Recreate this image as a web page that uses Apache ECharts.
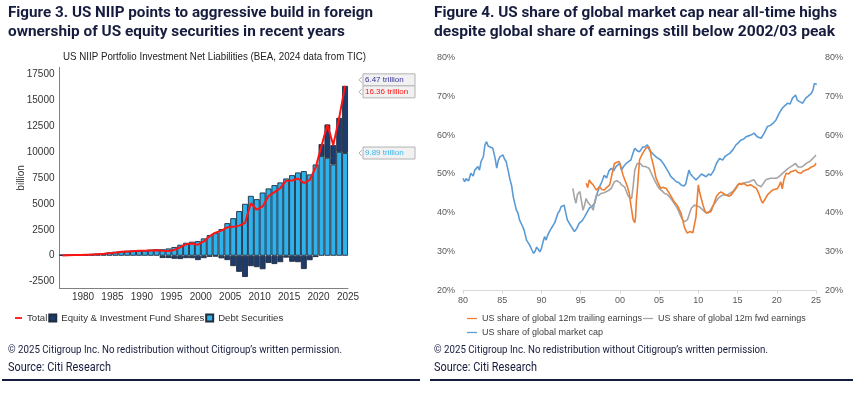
<!DOCTYPE html>
<html>
<head>
<meta charset="utf-8">
<script src="https://cdn.jsdelivr.net/npm/echarts@6/dist/echarts.min.js"></script>
<style>
  html, body { margin: 0; padding: 0; background: #fff; }
  #main { width: 868px; height: 397px; }
</style>
</head>
<body>
<div id="main"></div>
<script>
// ---- Figure 3: US NIIP portfolio investment net liabilities ($bn) ----
const years = [1976, 1977, 1978, 1979, 1980, 1981, 1982, 1983, 1984, 1985, 1986, 1987, 1988, 1989, 1990,
  1991, 1992, 1993, 1994, 1995, 1996, 1997, 1998, 1999, 2000, 2001, 2002, 2003, 2004, 2005, 2006, 2007,
  2008, 2009, 2010, 2011, 2012, 2013, 2014, 2015, 2016, 2017, 2018, 2019, 2020, 2021, 2022, 2023, 2024];
const debt = [60, 70, 80, 95, 110, 130, 160, 200, 260, 330, 390, 420, 450, 480, 500, 530, 560,
  620, 700, 840, 1060, 1250, 1350, 1410, 1670, 1990, 2210, 2560, 3140,
  3620, 4300, 5000, 5770, 5450, 6090, 6480, 6800, 7060, 7440,
  7760, 8020, 8150, 7830, 8790, 9590, 9430, 8790, 10000, 9890];
const equity = [0, 0, 0, 0, 0, 0, 0, 0, 0, 0, 0, 0, 0, 0, 0, 0, 0,
  -220, -220, -290, -320, -230, -240, -420, -230, -100, -60, -250, -420,
  -1000, -1550, -2050, -1000, -1100, -1300, -700, -800, -620, -180,
  -580, -620, -1280, -430, -130, 1160, 3210, 1860, 3280, 6470];
const total = [20, 40, 60, 80, 100, 120, 150, 190, 240, 300, 380, 410, 440, 470, 480, 500, 520,
  470, 450, 560, 820, 1100, 1180, 1060, 1380, 1880, 2230, 2420, 2740,
  2780, 2900, 3150, 5050, 4430, 4750, 5750, 6120, 6500, 7230,
  7250, 7440, 7000, 7300, 8500, 10600, 12600, 10650, 13280, 16360];
const tagLabels = ['6.47 trillion', '16.36 trillion', '9.89 trillion'];

// ---- Figure 4: US share of global market cap / earnings (%) ----
const capX = [1980.0, 1980.2, 1980.4, 1980.7, 1981.0, 1981.3, 1981.5, 1981.9, 1982.1, 1982.3, 1982.6, 1982.8,
  1983.0, 1983.2, 1983.4, 1983.8, 1984.1, 1984.3, 1984.5, 1984.7, 1985.1, 1985.3, 1985.5, 1985.8, 1986.0,
  1986.2, 1986.4, 1986.8, 1987.0, 1987.2, 1987.6, 1987.8, 1988.1, 1988.3, 1988.5, 1988.8, 1989.0, 1989.2,
  1989.4, 1989.6, 1989.8, 1990.0, 1990.2, 1990.4, 1990.6, 1990.8, 1991.1, 1991.4, 1991.7, 1992.1, 1992.3,
  1992.5, 1992.9, 1993.1, 1993.3, 1993.8, 1994.2, 1994.5, 1994.8, 1995.2, 1995.5, 1996.1, 1996.5, 1996.8,
  1997.1, 1997.4, 1997.7, 1998.0, 1998.3, 1998.6, 1998.9, 1999.2, 1999.5, 2000.0, 2000.2, 2000.5, 2000.8,
  2001.1, 2001.4, 2001.7, 2001.9, 2002.2, 2002.5, 2002.9, 2003.2, 2003.5, 2003.8, 2004.0, 2004.3, 2004.6,
  2005.2, 2005.6, 2005.9, 2006.2, 2006.5, 2006.9, 2007.2, 2007.5, 2007.8, 2008.2, 2008.4, 2008.6, 2008.8,
  2009.0, 2009.3, 2009.7, 2010.1, 2010.4, 2010.6, 2011.0, 2011.3, 2011.6, 2012.0, 2012.3, 2012.7, 2013.1,
  2013.4, 2013.7, 2014.0, 2014.4, 2014.8, 2015.1, 2015.4, 2015.8, 2016.1, 2016.4, 2016.7, 2017.1, 2017.5,
  2018.0, 2018.4, 2018.8, 2019.2, 2019.5, 2019.9, 2020.1, 2020.3, 2020.7, 2021.0, 2021.4, 2021.7, 2022.0,
  2022.4, 2022.6, 2022.9, 2023.3, 2023.7, 2024.0, 2024.4, 2024.6, 2024.8, 2024.95, 2025.1];
const capY = [48.9, 48.0, 48.8, 48.2, 50.2, 49.5, 51.0, 51.9, 51.0, 53.2, 54.5, 57.5,
  58.3, 57.2, 57.4, 56.6, 54.0, 51.5, 53.5, 54.4, 54.9, 53.8, 53.2, 50.5, 48.5,
  47.0, 44.2, 40.7, 40.0, 38.2, 36.5, 35.5, 33.0, 32.5, 31.7, 30.4, 29.6, 30.2,
  31.2, 31.7, 30.0, 30.9, 32.5, 33.9, 33.0, 34.3, 35.5, 36.5, 37.5, 39.9, 40.5,
  41.6, 42.0, 40.0, 38.2, 36.5, 35.2, 36.0, 37.3, 38.0, 39.0, 41.2, 41.8, 42.5,
  45.0, 46.7, 48.0, 49.7, 49.0, 50.8, 51.5, 50.8, 51.9, 52.8, 51.0, 52.0, 52.7,
  53.2, 53.6, 55.5, 56.6, 56.0, 55.7, 56.9, 57.0, 57.5, 56.0, 55.7, 55.0, 54.4,
  53.6, 52.5, 51.5, 50.5, 49.3, 48.6, 48.0, 47.8, 47.2, 46.9, 47.5, 49.3, 51.0,
  50.0, 49.3, 48.5, 49.3, 50.0, 50.2, 49.3, 50.0, 49.7, 51.0, 52.7, 54.0, 53.6,
  54.5, 54.9, 55.3, 56.2, 57.5, 58.0, 58.7, 59.0, 59.6, 59.8, 60.0, 60.5, 59.6,
  59.2, 60.5, 62.2, 62.5, 63.0, 63.9, 64.0, 65.6, 66.9, 67.5, 68.2, 68.0, 69.5,
  70.3, 69.0, 68.6, 68.2, 69.5, 70.0, 70.7, 71.5, 73.3, 73.8, 73.0];

const trailX = [1995.7, 1995.9, 1996.1, 1996.3, 1996.6, 1996.8, 1997.0, 1997.2, 1997.4, 1997.7, 1998.0, 1998.3,
  1998.7, 1999.0, 1999.3, 1999.6, 1999.9, 2000.1, 2000.4, 2000.8, 2001.0, 2001.2, 2001.4, 2001.7, 2001.9,
  2002.0, 2002.1, 2002.3, 2002.5, 2002.7, 2002.9, 2003.1, 2003.3, 2003.5, 2003.7, 2003.9, 2004.0, 2004.2,
  2004.4, 2004.6, 2004.9, 2005.2, 2005.5, 2005.9, 2006.3, 2006.6, 2006.9, 2007.2, 2007.4, 2007.8, 2008.0,
  2008.2, 2008.4, 2008.6, 2008.9, 2009.1, 2009.3, 2009.5, 2009.7, 2009.85, 2010.0, 2010.15, 2010.3, 2010.6,
  2010.8, 2011.0, 2011.2, 2011.6, 2012.0, 2012.3, 2012.6, 2012.9, 2013.2, 2013.5, 2013.9, 2014.2, 2014.5,
  2014.8, 2015.2, 2015.5, 2015.8, 2016.2, 2016.7, 2017.0, 2017.4, 2017.7, 2018.0, 2018.2, 2018.5, 2018.8,
  2019.1, 2019.5, 2020.1, 2020.3, 2020.5, 2020.7, 2020.9, 2021.2, 2021.5, 2021.8, 2022.1, 2022.4, 2022.7,
  2023.1, 2023.4, 2023.7, 2024.0, 2024.2, 2024.4, 2024.6, 2024.8, 2025.0];
const trailY = [47.6, 46.5, 48.5, 47.8, 47.2, 46.5, 45.9, 46.3, 46.7, 46.0, 45.9, 46.5,
  47.2, 50.0, 52.7, 53.0, 53.2, 52.0, 49.7, 47.6, 46.5, 45.0, 42.0, 38.2, 37.5,
  39.0, 43.0, 48.0, 53.6, 54.5, 55.3, 55.8, 56.6, 56.2, 57.0, 55.8, 54.4, 52.8,
  51.0, 49.0, 47.6, 46.3, 46.6, 46.3, 45.0, 44.0, 42.9, 42.2, 41.6, 39.9, 38.2,
  36.5, 35.5, 34.8, 35.2, 35.6, 34.9, 35.2, 39.0, 43.5, 47.2, 45.5, 44.2, 42.0,
  40.7, 40.0, 39.5, 40.3, 42.5, 44.2, 45.0, 45.4, 45.0, 44.6, 44.3, 44.6, 45.5,
  46.3, 47.6, 47.3, 47.6, 47.0, 47.2, 46.8, 46.3, 45.0, 43.3, 42.5, 43.5, 44.6,
  45.2, 45.9, 46.3, 47.0, 48.0, 46.2, 48.5, 50.2, 50.0, 50.6, 50.8, 51.0, 50.4,
  50.2, 50.8, 51.0, 51.2, 51.5, 51.8, 52.3, 52.1, 52.8];

const fwdX = [1994.0, 1994.2, 1994.4, 1994.6, 1994.9, 1995.1, 1995.3, 1995.5, 1995.7, 1995.9, 1996.1, 1996.4,
  1996.6, 1996.8, 1997.0, 1997.3, 1997.6, 1998.0, 1998.3, 1998.6, 1998.9, 1999.1, 1999.3, 1999.6, 1999.8,
  2000.0, 2000.2, 2000.6, 2001.0, 2001.2, 2001.5, 2001.7, 2001.9, 2002.2, 2002.6, 2002.9, 2003.3, 2003.7,
  2004.0, 2004.4, 2004.7, 2005.0, 2005.4, 2005.7, 2006.0, 2006.3, 2006.6, 2006.9, 2007.3, 2007.6, 2007.9,
  2008.2, 2008.4, 2008.6, 2008.9, 2009.1, 2009.5, 2010.1, 2010.5, 2010.8, 2011.2, 2011.5, 2011.8, 2012.2,
  2012.5, 2012.8, 2013.1, 2013.7, 2014.0, 2014.4, 2014.7, 2015.0, 2015.3, 2015.7, 2016.1, 2016.5, 2016.8,
  2017.1, 2017.5, 2018.0, 2018.3, 2018.6, 2019.2, 2019.9, 2020.2, 2020.5, 2020.8, 2021.2, 2021.5, 2021.8,
  2022.1, 2022.4, 2022.7, 2022.9, 2023.2, 2023.5, 2023.8, 2024.2, 2024.4, 2024.6, 2024.8, 2025.0];
const fwdY = [46.3, 44.0, 42.5, 44.8, 45.5, 43.0, 40.7, 42.0, 43.7, 42.8, 42.5, 41.5,
  40.7, 43.0, 44.6, 44.5, 45.0, 45.2, 45.5, 45.8, 46.3, 47.2, 48.0, 48.3, 48.5,
  47.8, 47.2, 46.7, 44.6, 44.0, 43.7, 47.0, 51.0, 52.7, 52.7, 52.0, 51.9, 51.5,
  50.2, 48.5, 47.3, 46.3, 45.6, 45.0, 44.8, 44.2, 43.4, 42.5, 41.3, 39.9, 38.6,
  37.7, 37.5, 38.2, 40.0, 41.2, 42.0, 41.6, 40.9, 40.3, 39.9, 40.6, 41.6, 42.8,
  43.7, 44.2, 44.6, 44.6, 45.0, 45.5, 46.3, 47.2, 47.4, 47.6, 47.8, 48.0, 48.3,
  48.5, 47.2, 46.7, 47.6, 48.5, 48.9, 48.9, 49.2, 49.7, 50.3, 51.0, 51.5, 51.9,
  52.3, 52.7, 51.8, 51.5, 51.8, 52.3, 52.8, 53.2, 53.6, 54.0, 54.4, 54.9];

const title3 = ['Figure 3. US NIIP points to aggressive build in foreign', 'ownership of US equity securities in recent years'];
const title4 = ['Figure 4. US share of global market cap near all-time highs', 'despite global share of earnings still below 2002/03 peak'];
const subtitle3 = 'US NIIP Portfolio Investment Net Liabilities (BEA, 2024 data from TIC)';
const copyright = '\u00a9 2025 Citigroup Inc. No redistribution without Citigroup\u2019s written permission.';
const source = 'Source: Citi Research';

const NAVY = '#161c3d';
const SANS = '"Liberation Sans", Arial, sans-serif';
const AXIS_GREY = '#808080';

const chart = echarts.init(document.getElementById('main'));

// measure text so it can be squeezed to the width seen in the picture
const measure = document.createElement('canvas').getContext('2d');
function fitText(str, x, y, w, font, color) {
  measure.font = font;
  return {
    type: 'text', x: x, y: y, silent: true,
    scaleX: w / measure.measureText(str).width,
    style: { text: str, font: font, fill: color, textAlign: 'left', textVerticalAlign: 'middle' }
  };
}

const lineIcon = 'path://M0,0H10V2.6H0Z';
const thinIcon = 'path://M0,0H16V2H0Z';

chart.setOption({
  animation: false,
  backgroundColor: '#fff',
  grid: [
    { left: 59.5, top: 74, width: 288.5, height: 207.7 },
    { left: 463, top: 57.3, width: 353, height: 233.4 }
  ],
  legend: [
    {
      left: 15, top: 313, padding: 0, itemWidth: 7, itemHeight: 7, itemGap: 1,
      textStyle: { fontFamily: SANS, fontSize: 9.6, color: '#333' },
      data: [
        { name: 'Total', icon: lineIcon },
        { name: 'Equity & Investment Fund Shares', icon: 'rect' },
        { name: 'Debt Securities', icon: 'rect' }
      ]
    },
    {
      left: 467, top: 314, padding: 0, itemWidth: 10, itemHeight: 6, itemGap: 1,
      textStyle: { fontFamily: SANS, fontSize: 9, color: '#404040' },
      data: [
        { name: 'US share of global 12m trailing earnings', icon: thinIcon },
        { name: 'US share of global 12m fwd earnings', icon: thinIcon }
      ]
    },
    {
      left: 467, top: 328, padding: 0, itemWidth: 10, itemHeight: 6,
      textStyle: { fontFamily: SANS, fontSize: 9, color: '#404040' },
      data: [{ name: 'US share of global market cap', icon: thinIcon }]
    }
  ],
  xAxis: [
    {
      // one band per year for the stacked bars and the total line
      type: 'category', gridIndex: 0, position: 'bottom', data: years.map(String), boundaryGap: true,
      axisLine: { show: false }, axisTick: { show: false }, axisLabel: { show: false }
    },
    {
      type: 'value', gridIndex: 1, min: 1980, max: 2025, interval: 5,
      axisLine: { lineStyle: { color: '#d9d9d9' } },
      axisTick: { show: true, length: 3, lineStyle: { color: '#d9d9d9' } },
      splitLine: { show: false },
      axisLabel: {
        fontFamily: SANS, fontSize: 9, color: '#595959', margin: 5,
        formatter: v => String(v % 100).padStart(2, '0')
      }
    },
    {
      // year scale with labels on the band edges, as in the original
      type: 'value', gridIndex: 0, position: 'bottom', min: 1976, max: 2025, interval: 1, offset: 7,
      axisLine: { onZero: false, lineStyle: { color: AXIS_GREY, width: 1 } },
      axisTick: { show: false },
      splitLine: { show: false },
      axisLabel: {
        fontFamily: SANS, fontSize: 10, color: '#333', margin: 4,
        formatter: v => (v % 5 === 0 ? String(v) : '')
      }
    }
  ],
  yAxis: [
    {
      type: 'value', gridIndex: 0, min: -2500, max: 17500, interval: 2500,
      axisLine: { show: false },
      axisTick: { show: false },
      splitLine: { show: false },
      axisLabel: { fontFamily: SANS, fontSize: 10, color: '#333', margin: 5, formatter: v => String(v) }
    },
    {
      type: 'value', gridIndex: 1, min: 20, max: 80, interval: 10,
      axisLine: { show: false }, axisTick: { show: false }, splitLine: { show: false },
      axisLabel: { fontFamily: SANS, fontSize: 9, color: '#595959', margin: 8, formatter: '{value}%' }
    },
    {
      type: 'value', gridIndex: 1, position: 'right', min: 20, max: 80, interval: 10,
      axisLine: { show: false }, axisTick: { show: false }, splitLine: { show: false },
      axisLabel: { fontFamily: SANS, fontSize: 9, color: '#595959', margin: 9, formatter: '{value}%' }
    }
  ],
  series: [
    {
      name: 'Debt Securities', type: 'bar', xAxisIndex: 0, yAxisIndex: 0, stack: 'niip', barCategoryGap: '0%',
      itemStyle: { color: '#2fb1ec', borderColor: '#1f2d3d', borderWidth: 0.9 },
      data: debt
    },
    {
      name: 'Equity & Investment Fund Shares', type: 'bar', xAxisIndex: 0, yAxisIndex: 0, stack: 'niip', barCategoryGap: '0%',
      itemStyle: { color: '#1d3b6c', borderColor: '#1f2d3d', borderWidth: 0.9 },
      data: equity
    },
    {
      name: 'Total', type: 'line', xAxisIndex: 0, yAxisIndex: 0, z: 5,
      showSymbol: false, itemStyle: { color: '#ff1414' },
      lineStyle: { color: '#ff1414', width: 2 },
      data: total
    },
    {
      name: 'US share of global market cap', type: 'line', xAxisIndex: 1, yAxisIndex: 1,
      showSymbol: false, itemStyle: { color: '#5b9bd5' }, lineStyle: { color: '#5b9bd5', width: 1.6 },
      data: capX.map((x, i) => [x, capY[i]])
    },
    {
      name: 'US share of global 12m fwd earnings', type: 'line', xAxisIndex: 1, yAxisIndex: 1,
      showSymbol: false, itemStyle: { color: '#a5a5a5' }, lineStyle: { color: '#a5a5a5', width: 1.6 },
      data: fwdX.map((x, i) => [x, fwdY[i]])
    },
    {
      name: 'US share of global 12m trailing earnings', type: 'line', xAxisIndex: 1, yAxisIndex: 1,
      showSymbol: false, itemStyle: { color: '#ed7d31' }, lineStyle: { color: '#ed7d31', width: 1.6 },
      data: trailX.map((x, i) => [x, trailY[i]])
    }
  ]
});

// texts, rules and last-value tags placed from the chart's own scales
const last = years.length - 1;
const px = v => chart.convertToPixel({ xAxisIndex: 2 }, v);
const py = v => chart.convertToPixel({ yAxisIndex: 0 }, v);
const axisTop = py(17500), axisBottom = py(-2500);
const tagX = px(2025) + 15;
const tagY = [py(debt[last] + equity[last]) - 6, py(total[last]) + 6, py(debt[last])];
const tagColors = ['#33339c', '#ff1414', '#35b6f0'];

const graphics = [
  fitText(title3[0], 8, 13, 365, 'bold 15px Roboto', NAVY),
  fitText(title3[1], 8, 32.5, 337, 'bold 15px Roboto', NAVY),
  fitText(title4[0], 434, 13, 403, 'bold 15px Roboto', NAVY),
  fitText(title4[1], 434, 32.5, 401, 'bold 15px Roboto', NAVY),
  fitText(subtitle3, 63, 57, 303, '10.5px ' + SANS, '#222'),
  fitText(copyright, 8, 350, 334, '11px Roboto', NAVY),
  fitText(source, 8, 368, 103, '13px Roboto', NAVY),
  fitText(copyright, 434, 350, 334, '11px Roboto', NAVY),
  fitText(source, 434, 368, 103, '13px Roboto', NAVY),
  { type: 'text', silent: true, x: px(1976) - 38, y: (axisTop + axisBottom) / 2, rotation: Math.PI / 2,
    style: { text: 'billion', font: '10px ' + SANS, fill: '#333', textAlign: 'center', textVerticalAlign: 'middle' } },
  { type: 'line', silent: true, shape: { x1: 2, y1: 380, x2: 420, y2: 380 }, style: { stroke: NAVY, lineWidth: 2 } },
  { type: 'line', silent: true, shape: { x1: 430, y1: 380, x2: 853, y2: 380 }, style: { stroke: NAVY, lineWidth: 2 } },
  { type: 'line', silent: true, shape: { x1: px(1976), y1: axisTop - 7, x2: px(1976), y2: axisBottom + 7 },
    style: { stroke: AXIS_GREY, lineWidth: 1 } }
];
tagLabels.forEach((t, i) => {
  const cy = tagY[i];
  graphics.push(
    { type: 'polyline', silent: true, shape: { points: [[tagX - 1, cy - 3], [tagX - 4, cy], [tagX - 1, cy + 3]] },
      style: { stroke: '#9a9a9a', fill: null, lineWidth: 0.8 } },
    { type: 'rect', silent: true, shape: { x: tagX, y: cy - 6, width: 52, height: 12 },
      style: { fill: '#f1f1f1', stroke: '#b3b3b3', lineWidth: 1 } },
    { type: 'text', silent: true, x: tagX + 2, y: cy,
      style: { text: t, font: '8px ' + SANS, fill: tagColors[i], textAlign: 'left', textVerticalAlign: 'middle' } }
  );
});
chart.setOption({ graphic: graphics });
</script>
</body>
</html>
